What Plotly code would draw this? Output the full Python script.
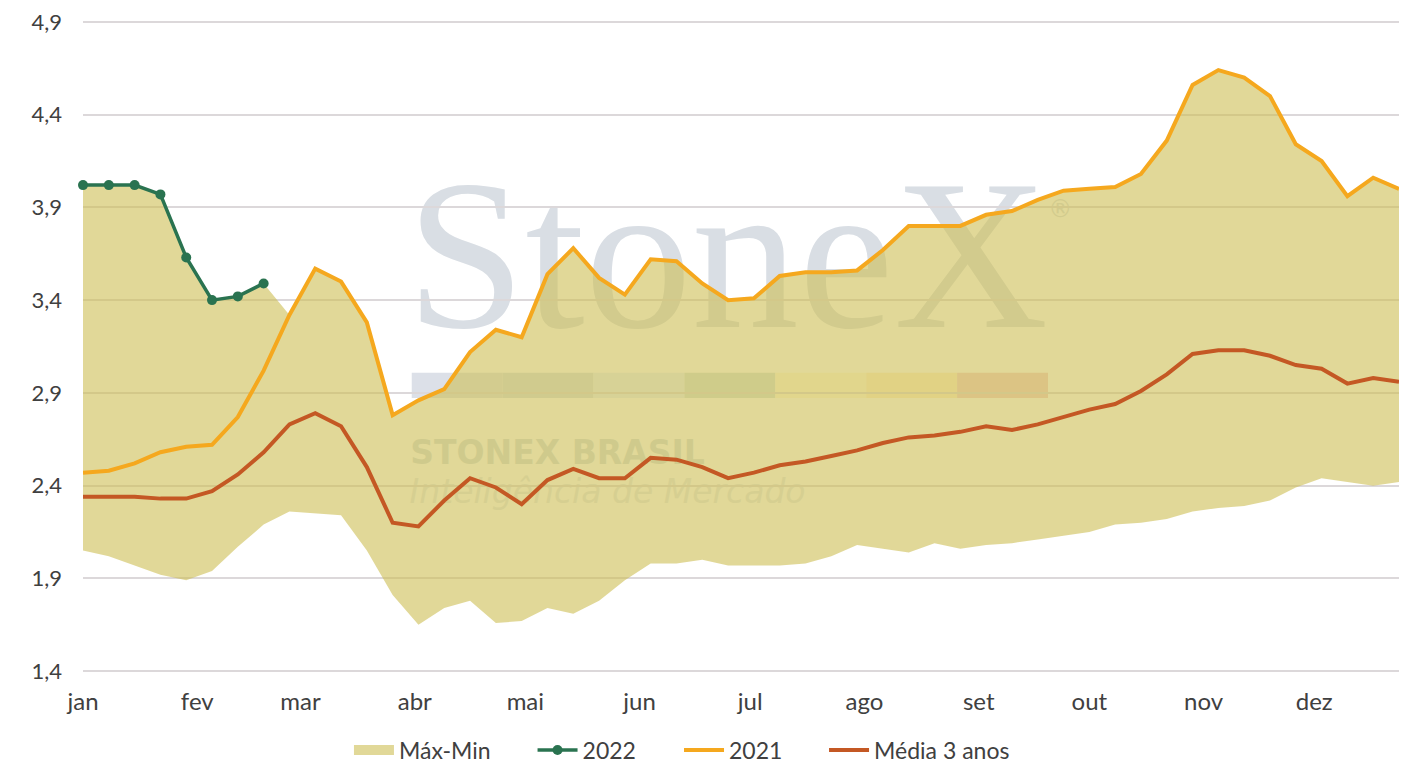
import pandas as pd
import plotly.graph_objects as go

# semanas do ano (eixo sazonal)
semanas = pd.date_range("2021-01-01", periods=52, freq="7D")
inicio_meses = pd.date_range("2021-01-01", periods=12, freq="MS")
meses = ["jan", "fev", "mar", "abr", "mai", "jun", "jul", "ago", "set", "out", "nov", "dez"]
y_ticks = [1.4, 1.9, 2.4, 2.9, 3.4, 3.9, 4.4, 4.9]

# valores
serie_2022 = [4.02, 4.02, 4.02, 3.97, 3.63, 3.40, 3.42, 3.49]

serie_2021 = [2.47, 2.48, 2.52, 2.58, 2.61, 2.62, 2.77, 3.02, 3.32, 3.57,
              3.50, 3.28, 2.78, 2.86, 2.92, 3.12, 3.24, 3.20, 3.54, 3.68,
              3.52, 3.43, 3.62, 3.61, 3.49, 3.40, 3.41, 3.53, 3.55, 3.55,
              3.56, 3.67, 3.80, 3.80, 3.80, 3.86, 3.88, 3.94, 3.99, 4.00,
              4.01, 4.08, 4.26, 4.56, 4.64, 4.60, 4.50, 4.24, 4.15, 3.96,
              4.06, 4.00]

maximo = [4.02, 4.02, 4.02, 3.97, 3.63, 3.40, 3.42, 3.49, 3.32, 3.57,
          3.50, 3.28, 2.78, 2.86, 2.92, 3.12, 3.24, 3.20, 3.54, 3.68,
          3.52, 3.43, 3.62, 3.61, 3.49, 3.40, 3.41, 3.53, 3.55, 3.55,
          3.56, 3.67, 3.80, 3.80, 3.80, 3.86, 3.88, 3.94, 3.99, 4.00,
          4.01, 4.08, 4.26, 4.56, 4.64, 4.60, 4.50, 4.24, 4.15, 3.96,
          4.06, 4.00]

minimo = [2.05, 2.02, 1.97, 1.92, 1.89, 1.94, 2.07, 2.19, 2.26, 2.25,
          2.24, 2.05, 1.81, 1.65, 1.74, 1.78, 1.66, 1.67, 1.74, 1.71,
          1.78, 1.89, 1.98, 1.98, 2.00, 1.97, 1.97, 1.97, 1.98, 2.02,
          2.08, 2.06, 2.04, 2.09, 2.06, 2.08, 2.09, 2.11, 2.13, 2.15,
          2.19, 2.20, 2.22, 2.26, 2.28, 2.29, 2.32, 2.39, 2.44, 2.42,
          2.40, 2.42]

media_3anos = [2.34, 2.34, 2.34, 2.33, 2.33, 2.37, 2.46, 2.58, 2.73, 2.79,
               2.72, 2.50, 2.20, 2.18, 2.32, 2.44, 2.39, 2.30, 2.43, 2.49,
               2.44, 2.44, 2.55, 2.54, 2.50, 2.44, 2.47, 2.51, 2.53, 2.56,
               2.59, 2.63, 2.66, 2.67, 2.69, 2.72, 2.70, 2.73, 2.77, 2.81,
               2.84, 2.91, 3.00, 3.11, 3.13, 3.13, 3.10, 3.05, 3.03, 2.95,
               2.98, 2.96]

cores_barra = ["#DCE0E8", "#D4DEE6", "#E6F0FA", "#D2E1DC", "#FFFAE1", "#FFF0CD", "#F2CDCD"]

fig = go.Figure()

# faixa máx-mín
fig.add_trace(go.Scatter(
    x=semanas, y=minimo, mode="lines", line=dict(width=0),
    showlegend=False, hoverinfo="skip"
))
fig.add_trace(go.Scatter(
    x=semanas, y=maximo, mode="lines", line=dict(width=0),
    fill="tonexty", fillcolor="rgba(205,190,83,0.6)", showlegend=False
))
# só para a legenda (amostra retangular da faixa)
fig.add_trace(go.Scatter(
    x=[None], y=[None], mode="lines", name="Máx-Min",
    line=dict(color="#E1D898", width=13), legend="legend"
))
fig.add_trace(go.Scatter(
    x=semanas[:len(serie_2022)], y=serie_2022, mode="lines+markers", name="2022",
    line=dict(color="#2A7350", width=3.5), marker=dict(size=10, color="#2A7350"),
    cliponaxis=False, legend="legend2"
))
fig.add_trace(go.Scatter(
    x=semanas, y=serie_2021, mode="lines", name="2021",
    line=dict(color="#F5A81E", width=4), legend="legend3"
))
fig.add_trace(go.Scatter(
    x=semanas, y=media_3anos, mode="lines", name="Média 3 anos",
    line=dict(color="#C45824", width=4), legend="legend4"
))

# marca d'água (atrás da área)
shapes = []
larg = 0.06907
for k, cor in enumerate(cores_barra):
    shapes.append(dict(type="rect", xref="paper", yref="paper", layer="below",
                       x0=0.2498 + k * larg, x1=0.2498 + (k + 1) * larg,
                       y0=0.4213, y1=0.4599, fillcolor=cor, line=dict(width=0)))

def rotulo(texto, x0, x1, y0, y1, fonte):
    return dict(type="rect", xref="paper", yref="paper", layer="below",
                x0=x0, x1=x1, y0=y0, y1=y1, fillcolor="rgba(0,0,0,0)",
                line=dict(width=0),
                label=dict(text=texto, font=fonte, textposition="middle center"))

shapes.append(rotulo("StoneX", 0.2396, 0.7396, 0.589, 0.763,
                     dict(family="Liberation Serif", size=214, color="#D9DEE4")))
shapes.append(rotulo("®", 0.730, 0.755, 0.698, 0.728,
                     dict(family="DejaVu Sans", size=24, color="#D9DEE4")))
shapes.append(rotulo("STONEX BRASIL", 0.2406, 0.4806, 0.315, 0.365,
                     dict(family="DejaVu Sans", size=33, color="#D2DCE2", weight="bold")))
shapes.append(rotulo("Inteligência de Mercado", 0.2036, 0.5936, 0.256, 0.306,
                     dict(family="DejaVu Sans", size=33, color="#E4E8EE", style="italic")))

leg = dict(orientation="h", y=-0.118, yanchor="middle", xanchor="left",
           font=dict(size=23, color="#404040"), itemwidth=40, bgcolor="rgba(0,0,0,0)")

fig.update_layout(
    width=1417, height=783,
    margin=dict(l=83, r=18, t=20, b=103),
    plot_bgcolor="white", paper_bgcolor="white",
    separators=",.",
    font=dict(family="Lato", size=22, color="#404040"),
    shapes=shapes,
    showlegend=True,
    legend=dict(leg, x=0.2021),
    legend2=dict(leg, x=0.3416),
    legend3=dict(leg, x=0.4529),
    legend4=dict(leg, x=0.5631),
    hovermode=False,
)
fig.update_xaxes(
    range=[semanas[0], semanas[-1]], tickvals=inicio_meses, ticktext=meses,
    tickfont=dict(size=24),
    showgrid=False, zeroline=False, showline=False, ticks="", ticklabelstandoff=12,
    automargin=False
)
fig.update_yaxes(
    range=[1.39, 4.91], tickvals=y_ticks, tickformat=".1f",
    showgrid=True, gridcolor="#DCD8DA", gridwidth=1.5, zeroline=False, showline=False,
    ticks="", ticklabelstandoff=20, automargin=False
)

fig.write_html("out.html", config={"displayModeBar": False},
               post_script="document.body.style.margin='0';")
